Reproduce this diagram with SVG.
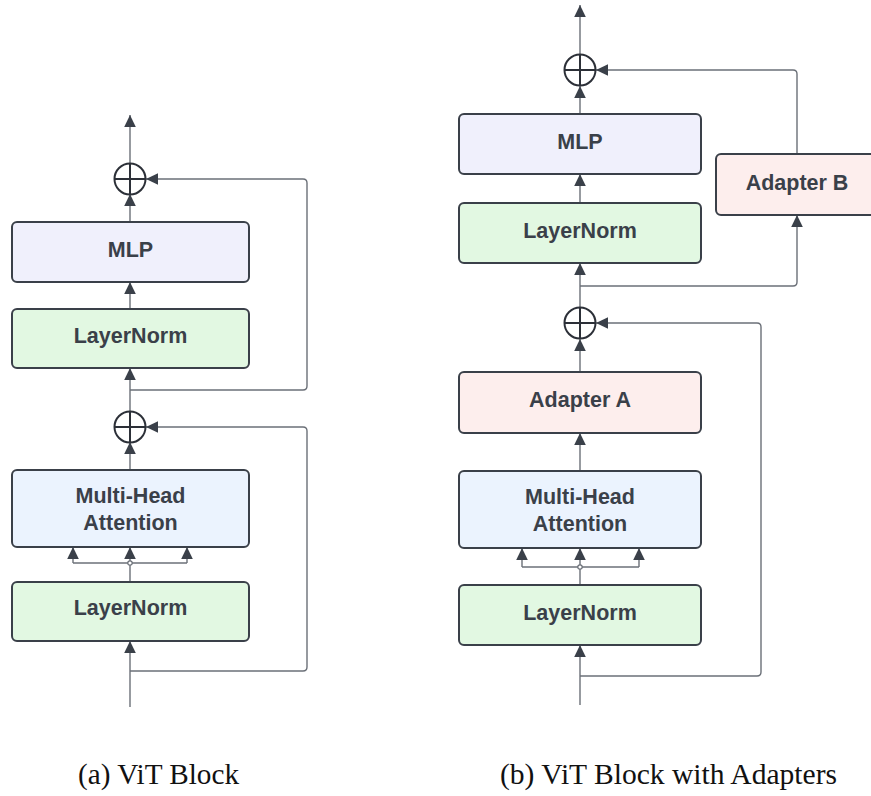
<svg xmlns="http://www.w3.org/2000/svg" width="871" height="796" viewBox="0 0 871 796">
  <defs>
    <marker id="arr" markerUnits="userSpaceOnUse" markerWidth="12" markerHeight="14" viewBox="0 0 12 14" refX="12" refY="7" orient="auto">
      <path d="M0,1.2 L12,7 L0,12.8 Z" fill="#3a4049"/>
    </marker>
    <style>
      .box { stroke: #3a4049; stroke-width: 2; }
      .ln { fill: #e2f8e2; }
      .mlp { fill: #f0f0fc; }
      .mha { fill: #ebf3fe; }
      .ada { fill: #fdeeed; }
      .lbl { font-family: "Liberation Sans", Arial, sans-serif; font-weight: bold; font-size: 21.5px; fill: #3a4049; text-anchor: middle; }
      .cap { font-family: "Liberation Serif", "Times New Roman", serif; font-size: 29px; fill: #111; }
      .wire { fill: none; stroke: #6b7078; stroke-width: 1.4; }
      .arw { marker-end: url(#arr); }
      .sum { fill: #fff; stroke: #2c3038; stroke-width: 2; }
      .jn { fill: #fff; stroke: #6b7078; stroke-width: 1.2; }
    </style>
  </defs>

  <!-- Connectors -->
  <g id="connectors">
    <!-- (a) ViT Block -->
    <line class="wire arw" x1="130" y1="164" x2="130" y2="115"/>
    <line class="wire arw" x1="130" y1="222" x2="130" y2="194"/>
    <line class="wire arw" x1="130" y1="309" x2="130" y2="282"/>
    <path class="wire arw" d="M130,390 H303 Q307,390 307,386 V183 Q307,179 303,179 H146"/>
    <line class="wire arw" x1="130" y1="412" x2="130" y2="368"/>
    <line class="wire arw" x1="130" y1="470" x2="130" y2="442"/>
    <line class="wire" x1="130" y1="582" x2="130" y2="563"/>
    <line class="wire" x1="73" y1="563" x2="187" y2="563"/>
    <line class="wire arw" x1="73" y1="563" x2="73" y2="547"/>
    <line class="wire arw" x1="130" y1="563" x2="130" y2="547"/>
    <line class="wire arw" x1="187" y1="563" x2="187" y2="547"/>
    <circle class="jn" cx="130" cy="563" r="2.2"/>
    <line class="wire arw" x1="130" y1="707" x2="130" y2="641"/>
    <path class="wire arw" d="M130,671 H303 Q307,671 307,667 V431 Q307,427 303,427 H146"/>

    <!-- (b) ViT Block with Adapters -->
    <line class="wire arw" x1="580" y1="55" x2="580" y2="5"/>
    <line class="wire arw" x1="580" y1="114" x2="580" y2="86"/>
    <line class="wire arw" x1="580" y1="203" x2="580" y2="174"/>
    <path class="wire arw" d="M797,154 V74 Q797,70 793,70 H596"/>
    <path class="wire arw" d="M580,286 H793 Q797,286 797,282 V215"/>
    <line class="wire arw" x1="580" y1="307" x2="580" y2="263"/>
    <path class="wire arw" d="M580,676 H757 Q761,676 761,672 V327 Q761,323 757,323 H596"/>
    <line class="wire arw" x1="580" y1="372" x2="580" y2="339"/>
    <line class="wire arw" x1="580" y1="471" x2="580" y2="433"/>
    <line class="wire" x1="580" y1="585" x2="580" y2="567"/>
    <line class="wire" x1="522" y1="567" x2="639" y2="567"/>
    <line class="wire arw" x1="522" y1="567" x2="522" y2="548"/>
    <line class="wire arw" x1="580" y1="567" x2="580" y2="548"/>
    <line class="wire arw" x1="639" y1="567" x2="639" y2="548"/>
    <circle class="jn" cx="580" cy="567" r="2.2"/>
    <line class="wire arw" x1="580" y1="705" x2="580" y2="645"/>
  </g>

  <!-- (a) nodes -->
  <g id="a-sum-top">
    <circle class="sum" cx="130" cy="179" r="15.5"/>
    <path d="M114.5,179 H145.5 M130,163.5 V194.5" stroke="#2c3038" stroke-width="2"/>
  </g>
  <g id="a-mlp">
    <rect class="box mlp" x="12" y="222" width="237" height="60" rx="5"/>
    <text class="lbl" x="130.5" y="257">MLP</text>
  </g>
  <g id="a-layernorm-top">
    <rect class="box ln" x="12" y="309" width="237" height="59" rx="5"/>
    <text class="lbl" x="130.5" y="342.5">LayerNorm</text>
  </g>
  <g id="a-sum-bottom">
    <circle class="sum" cx="130" cy="427" r="15.5"/>
    <path d="M114.5,427 H145.5 M130,411.5 V442.5" stroke="#2c3038" stroke-width="2"/>
  </g>
  <g id="a-mha">
    <rect class="box mha" x="12" y="470" width="237" height="77" rx="5"/>
    <text class="lbl" x="130.5" y="503">Multi-Head</text>
    <text class="lbl" x="130.5" y="529.5">Attention</text>
  </g>
  <g id="a-layernorm-bottom">
    <rect class="box ln" x="12" y="582" width="237" height="59" rx="5"/>
    <text class="lbl" x="130.5" y="615">LayerNorm</text>
  </g>

  <!-- (b) nodes -->
  <g id="b-sum-top">
    <circle class="sum" cx="580" cy="70" r="15.5"/>
    <path d="M564.5,70 H595.5 M580,54.5 V85.5" stroke="#2c3038" stroke-width="2"/>
  </g>
  <g id="b-mlp">
    <rect class="box mlp" x="459" y="114" width="242" height="60" rx="5"/>
    <text class="lbl" x="580" y="148.5">MLP</text>
  </g>
  <g id="b-adapter-b">
    <rect class="box ada" x="716" y="154" width="170" height="61" rx="5"/>
    <text class="lbl" x="797" y="189.5">Adapter B</text>
  </g>
  <g id="b-layernorm-top">
    <rect class="box ln" x="459" y="203" width="242" height="60" rx="5"/>
    <text class="lbl" x="580" y="237.5">LayerNorm</text>
  </g>
  <g id="b-sum-bottom">
    <circle class="sum" cx="580" cy="323" r="15.5"/>
    <path d="M564.5,323 H595.5 M580,307.5 V338.5" stroke="#2c3038" stroke-width="2"/>
  </g>
  <g id="b-adapter-a">
    <rect class="box ada" x="459" y="372" width="242" height="61" rx="5"/>
    <text class="lbl" x="580" y="407">Adapter A</text>
  </g>
  <g id="b-mha">
    <rect class="box mha" x="459" y="471" width="242" height="77" rx="5"/>
    <text class="lbl" x="580" y="503.5">Multi-Head</text>
    <text class="lbl" x="580" y="530.5">Attention</text>
  </g>
  <g id="b-layernorm-bottom">
    <rect class="box ln" x="459" y="585" width="242" height="60" rx="5"/>
    <text class="lbl" x="580" y="620">LayerNorm</text>
  </g>

  <!-- Captions -->
  <text class="cap" x="78" y="784" textLength="161" lengthAdjust="spacingAndGlyphs">(a) ViT Block</text>
  <text class="cap" x="500" y="784" textLength="337" lengthAdjust="spacingAndGlyphs">(b) ViT Block with Adapters</text>
</svg>
